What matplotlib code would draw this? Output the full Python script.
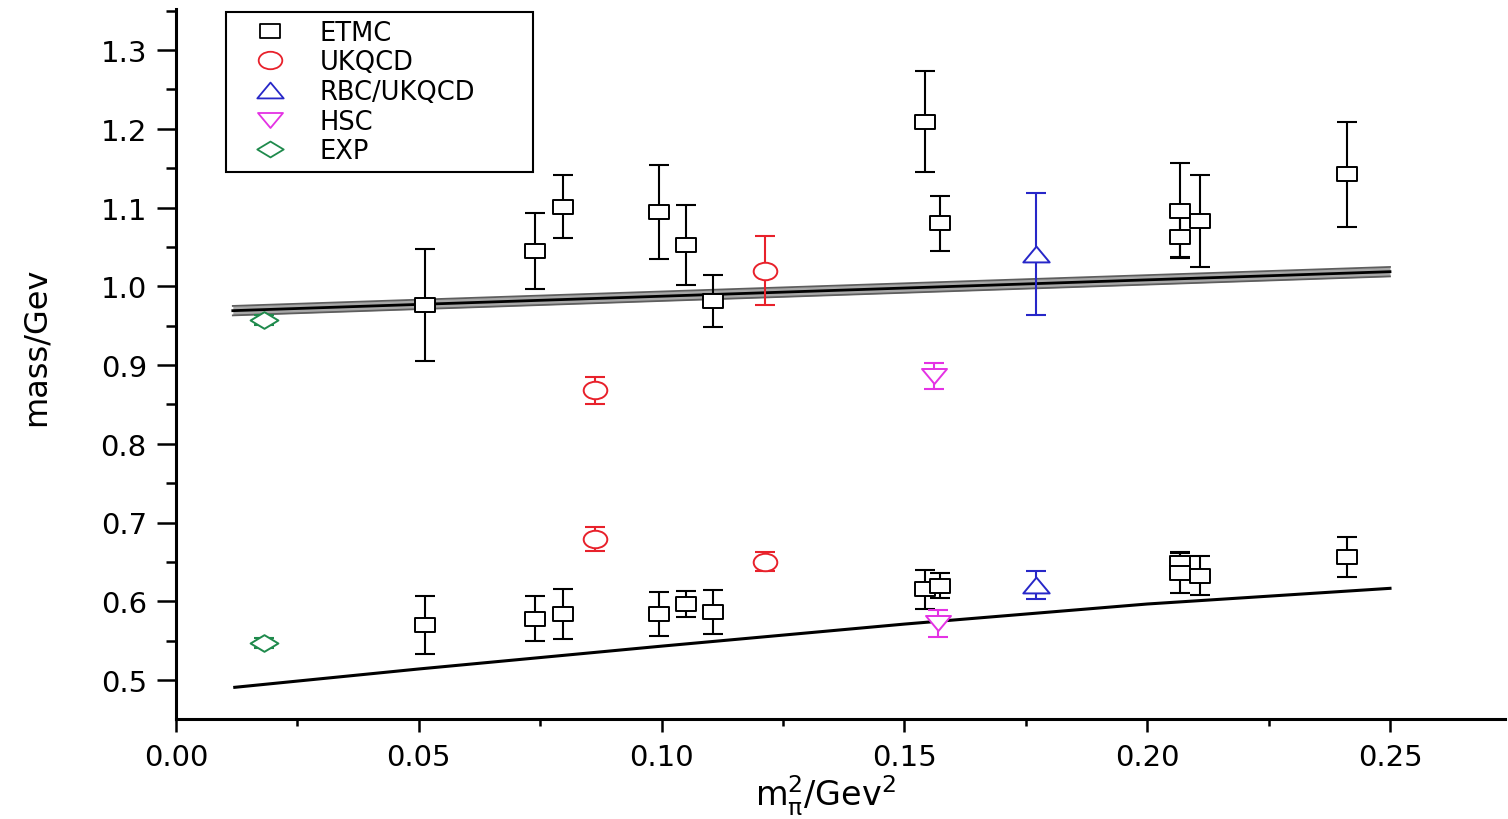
import numpy as np
import matplotlib
matplotlib.use("Agg")
import matplotlib.pyplot as plt
from matplotlib.path import Path
from matplotlib.transforms import Affine2D
from matplotlib.lines import Line2D
from matplotlib.ticker import MultipleLocator, FormatStrFormatter

plt.rcParams['font.family'] = ['DejaVu Sans']
plt.rcParams['mathtext.fontset'] = 'dejavusans'

# ---------------- data ----------------
etmc_x = [0.0513, 0.0739, 0.0797, 0.0995, 0.1050, 0.1106, 0.1542, 0.1573, 0.2067, 0.2067, 0.2109, 0.2411]
etmc_hi = [0.976, 1.045, 1.101, 1.094, 1.052, 0.981, 1.209, 1.080, 1.096, 1.0625, 1.083, 1.142]
etmc_hi_err = [0.071, 0.048, 0.040, 0.060, 0.051, 0.033, 0.064, 0.035, 0.060, 0.025, 0.058, 0.067]
etmc_lo = [0.570, 0.578, 0.584, 0.584, 0.5965, 0.586, 0.615, 0.620, 0.648, 0.636, 0.6325, 0.656]
etmc_lo_err = [0.037, 0.029, 0.032, 0.028, 0.016, 0.028, 0.025, 0.016, 0.014, 0.025, 0.025, 0.025]

ukqcd_x = [0.0862, 0.1213, 0.0862, 0.1213]
ukqcd_y = [0.868, 1.020, 0.679, 0.650]
ukqcd_err = [0.017, 0.044, 0.015, 0.012]

rbc_x = [0.1771, 0.1771]
rbc_y = [1.041, 0.621]
rbc_err = [0.078, 0.018]

hsc_x = [0.1560, 0.1570]
hsc_y = [0.886, 0.572]
hsc_err = [0.016, 0.017]

exp_x = [0.0182, 0.0182]
exp_y = [0.957, 0.547]
exp_err = [0.006, 0.006]

fit_hi_x = [0.0117, 0.25]
fit_hi_y = [0.969, 1.0185]
fit_hi_band = 0.006

fit_lo_x = [0.0121, 0.05, 0.10, 0.15, 0.20, 0.25]
fit_lo_y = [0.4907, 0.514, 0.543, 0.571, 0.5965, 0.6164]

labels = ['ETMC', 'UKQCD', 'RBC/UKQCD', 'HSC', 'EXP']

# ---------------- marker shapes (wider than tall) ----------------
sq = Path([(-1, -0.67), (1, -0.67), (1, 0.67), (-1, 0.67), (-1, -0.67)],
          [Path.MOVETO, Path.LINETO, Path.LINETO, Path.LINETO, Path.CLOSEPOLY])
ell = Path.unit_circle().transformed(Affine2D().scale(1, 0.74))
tri_up = Path([(-1, -0.6), (1, -0.6), (0, 0.6), (-1, -0.6)],
              [Path.MOVETO, Path.LINETO, Path.LINETO, Path.CLOSEPOLY])
tri_dn = Path([(-1, 0.6), (1, 0.6), (0, -0.6), (-1, 0.6)],
              [Path.MOVETO, Path.LINETO, Path.LINETO, Path.CLOSEPOLY])
dia = Path([(-1, 0), (0, 0.6), (1, 0), (0, -0.6), (-1, 0)],
           [Path.MOVETO, Path.LINETO, Path.LINETO, Path.LINETO, Path.CLOSEPOLY])

c_etmc = 'black'
c_uk = '#e8212b'
c_rbc = '#2727c8'
c_hsc = '#e432e4'
c_exp = '#1f8a4c'

fig = plt.figure(figsize=(15.08, 8.2), dpi=100)
ax = fig.add_axes([176/1508, 1 - 720/820, (1505-176)/1508, (720-10)/820])

# fits
xh = np.array(fit_hi_x)
yh = np.array(fit_hi_y)
ax.fill_between(xh, yh - fit_hi_band, yh + fit_hi_band, color='#a8a8a8', lw=0, zorder=1)
ax.plot(xh, yh - fit_hi_band, color='#5e5e5e', lw=1.3, zorder=1.1)
ax.plot(xh, yh + fit_hi_band, color='#5e5e5e', lw=1.3, zorder=1.1)
ax.plot(xh, yh, color='black', lw=2.0, zorder=1.2)
ax.plot(fit_lo_x, fit_lo_y, color='black', lw=2.2, zorder=1.2)

def eb(x, y, e, m, ms, col):
    ax.errorbar(x, y, yerr=e, fmt='none', ecolor=col, elinewidth=1.5,
                capsize=7, capthick=1.5, zorder=2)
    ax.plot(x, y, ls='none', marker=m, ms=ms, mfc='white', mec=col, mew=1.4, zorder=3)

eb(etmc_x, etmc_hi, etmc_hi_err, sq, 15, c_etmc)
eb(etmc_x, etmc_lo, etmc_lo_err, sq, 15, c_etmc)
eb(ukqcd_x, ukqcd_y, ukqcd_err, ell, 17, c_uk)
eb(rbc_x, rbc_y, rbc_err, tri_up, 19, c_rbc)
eb(hsc_x, hsc_y, hsc_err, tri_dn, 18, c_hsc)
eb(exp_x, exp_y, exp_err, dia, 20, c_exp)

# axes
ax.set_xlim(0, (1505-176)/4856)
ax.set_ylim(0.5 - (720-681)/787.5, 1.3 + (51-10)/787.5)
for s in ['top', 'right']:
    ax.spines[s].set_visible(False)
for s in ['left', 'bottom']:
    ax.spines[s].set_linewidth(2.2)

ax.xaxis.set_major_locator(MultipleLocator(0.05))
ax.xaxis.set_minor_locator(MultipleLocator(0.025))
ax.yaxis.set_major_locator(MultipleLocator(0.1))
ax.yaxis.set_minor_locator(MultipleLocator(0.05))
ax.xaxis.set_major_formatter(FormatStrFormatter('%.2f'))
ax.yaxis.set_major_formatter(FormatStrFormatter('%.1f'))
ax.tick_params(axis='x', which='major', direction='out', length=9, width=1.8, labelsize=21, pad=8)
ax.tick_params(axis='x', which='minor', direction='out', length=5, width=1.8)
ax.tick_params(axis='y', which='major', direction='out', length=14, width=1.8, labelsize=21, pad=7)
ax.tick_params(axis='y', which='minor', direction='out', length=7, width=1.8)

ax.set_xlabel(r'$\mathregular{m_{\pi}^{2}/Gev^{2}}$', fontsize=24)
ax.xaxis.set_label_coords((826-176)/1329, (720-774)/710)
ax.set_ylabel('mass/Gev', fontsize=23)
ax.yaxis.set_label_coords((52-176)/1329, (720-347)/710)

# legend
handles = [
    Line2D([], [], ls='none', marker=sq, ms=15, mfc='white', mec=c_etmc, mew=1.3),
    Line2D([], [], ls='none', marker=ell, ms=17, mfc='white', mec=c_uk, mew=1.3),
    Line2D([], [], ls='none', marker=tri_up, ms=19, mfc='white', mec=c_rbc, mew=1.3),
    Line2D([], [], ls='none', marker=tri_dn, ms=18, mfc='white', mec=c_hsc, mew=1.3),
    Line2D([], [], ls='none', marker=dia, ms=19, mfc='white', mec=c_exp, mew=1.3),
]
x0 = (226-176)/1329
x1 = (533-176)/1329
ytop = (720-13)/710
ybot = (720-168)/710
leg = ax.legend(handles, labels, loc='upper left', mode='expand',
                bbox_to_anchor=(x0, ybot, x1 - x0, ytop - ybot), borderaxespad=0,
                fontsize=18.5, frameon=True, fancybox=False, framealpha=1,
                edgecolor='black', borderpad=0.3, handlelength=2.8,
                handletextpad=0.55, labelspacing=0.14)
leg.get_frame().set_linewidth(1.5)

fig.savefig('out.png', dpi=100)
